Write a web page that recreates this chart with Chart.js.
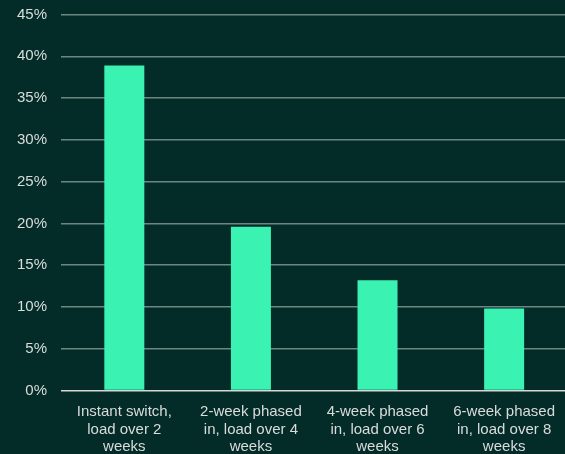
<!DOCTYPE html>
<html>
<head>
<meta charset="utf-8">
<script src="https://cdn.jsdelivr.net/npm/chart.js@4/dist/chart.umd.min.js"></script>
<style>
  html, body { margin: 0; padding: 0; background: #032c29; overflow: hidden; }
  #wrap { width: 568px; height: 454px; position: relative; }
</style>
</head>
<body>
<div id="wrap"><canvas id="c"></canvas></div>
<script>
const categories = [
  ["Instant switch,", "load over 2", "weeks"],
  ["2-week phased", "in, load over 4", "weeks"],
  ["4-week phased", "in, load over 6", "weeks"],
  ["6-week phased", "in, load over 8", "weeks"]
];
const values = [38.9, 19.6, 13.2, 9.8];
const yTicks = [0, 5, 10, 15, 20, 25, 30, 35, 40, 45];

new Chart(document.getElementById('c'), {
  type: 'bar',
  data: {
    labels: categories,
    datasets: [{
      data: values,
      backgroundColor: '#3af2b1',
      borderWidth: 0,
      barPercentage: 0.316,
      categoryPercentage: 1.0
    }]
  },
  options: {
    responsive: true,
    maintainAspectRatio: false,
    animation: false,
    layout: { padding: { top: 14.5, right: 0, left: 3, bottom: 0 } },
    plugins: { legend: { display: false }, tooltip: { enabled: false } },
    scales: {
      x: {
        grid: { display: false, drawTicks: false },
        border: { display: false },
        afterFit: (axis) => { axis.height = 63.5; },
        ticks: {
          color: '#d9dcdb',
          font: { family: 'Liberation Sans, Arial, sans-serif', size: 15, lineHeight: 1.15 },
          maxRotation: 0,
          autoSkip: false,
          padding: 13
        }
      },
      y: {
        min: 0,
        max: 45,
        afterBuildTicks: (axis) => { axis.ticks = yTicks.map(v => ({ value: v })); },
        afterFit: (axis) => { axis.paddingTop = 0; axis.paddingBottom = 0; },
        grid: {
          drawTicks: false,
          color: (ctx) => ctx.tick && ctx.tick.value === 0 ? '#d4d8d6' : '#6c8782',
          lineWidth: 1.5
        },
        border: { display: false },
        ticks: {
          color: '#d9dcdb',
          font: { family: 'Liberation Sans, Arial, sans-serif', size: 15 },
          padding: 14,
          callback: (v) => v + '%'
        }
      }
    }
  }
});
</script>
</body>
</html>
